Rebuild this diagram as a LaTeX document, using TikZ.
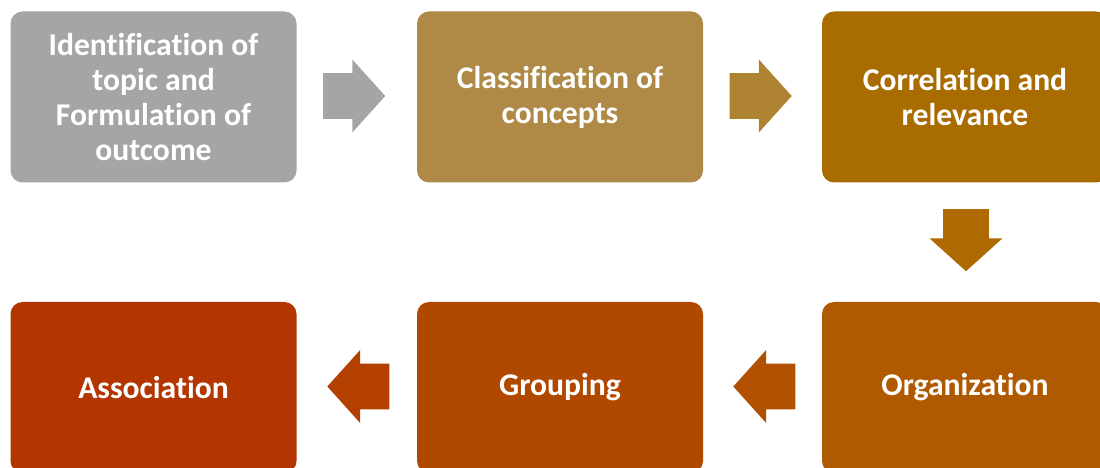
\documentclass[tikz,border=0pt]{standalone}
\usepackage{fontspec}
\setmainfont{Carlito}[Ligatures=CommonOff]
\usetikzlibrary{shapes.arrows, calc}

\definecolor{stepgray}{HTML}{A5A5A5}
\definecolor{steptan}{HTML}{AE8A46}
\definecolor{stepgold}{HTML}{A86C00}
\definecolor{steporga}{HTML}{AF5A00}
\definecolor{stepgrou}{HTML}{B14800}
\definecolor{stepasso}{HTML}{B33600}
\definecolor{arrowtan}{HTML}{AE8433}
\definecolor{arrowgold}{HTML}{AD6A00}
\definecolor{arrowgrou}{HTML}{B05000}
\definecolor{arrowasso}{HTML}{B33F00}

\tikzset{
    stepbox/.style={rectangle, rounded corners=0.24cm, minimum width=5.72cm, minimum height=3.42cm,
        align=center, text=white, font=\fontsize{18}{20}\selectfont\bfseries},
    blockarrow/.style={single arrow, anchor=tail, inner xsep=0pt, inner ysep=0.45cm, minimum height=1.24cm,
        single arrow head extend=0.27cm, single arrow tip angle=96},
    downarrow/.style={blockarrow, shape border rotate=270, inner xsep=0.45cm, inner ysep=0pt}
}

\begin{document}
\begin{tikzpicture}
        \useasboundingbox (0, 0) rectangle (22, -9.36);

        % Top row of steps
        \node[stepbox, fill=stepgray] (ident) at (3.07, -1.94) {Identification of\\topic and\\Formulation of\\outcome};
        \node[stepbox, fill=steptan] (classif) at (11.2, -1.94) {Classification of\\concepts};
        \node[stepbox, fill=stepgold] (correl) at (19.3, -1.94) {Correlation and\\relevance};

        % Bottom row of steps
        \node[stepbox, fill=stepasso] (assoc) at (3.07, -7.75) {Association};
        \node[stepbox, fill=stepgrou] (group) at (11.2, -7.75) {Grouping};
        \node[stepbox, fill=steporga] (organ) at (19.3, -7.75) {Organization};

        % Block arrows, tail a little off each box
        \node[blockarrow, fill=stepgray] (a1) at ($(ident.east)+(0.52, 0.02)$) {};
        \node[blockarrow, fill=arrowtan] (a2) at ($(classif.east)+(0.52, 0.02)$) {};
        \node[downarrow, fill=arrowgold] (a3) at ($(correl.south)+(0.02, -0.52)$) {};
        \node[blockarrow, fill=arrowgrou, shape border rotate=180] (a4) at ($(organ.west)+(-0.52, 0.02)$) {};
        \node[blockarrow, fill=arrowasso, shape border rotate=180] (a5) at ($(group.west)+(-0.54, 0.02)$) {};
    \end{tikzpicture}
\end{document}
